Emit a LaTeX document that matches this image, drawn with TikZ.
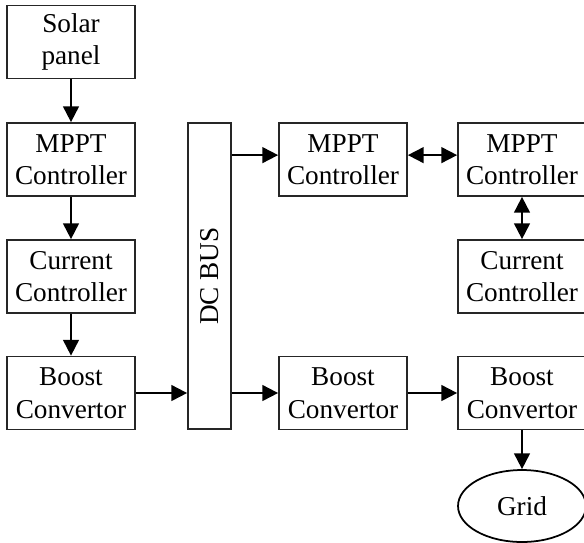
\documentclass[tikz,border=0pt]{standalone}
\usepackage{fontspec}
\setmainfont{Liberation Serif}
\usetikzlibrary{shapes,arrows.meta,positioning}

\begin{document}
\begin{tikzpicture}[
    x=0.02cm, y=-0.02cm,
    box/.style={rectangle, draw=black!85, line width=1pt, minimum width=2.56cm, minimum height=1.46cm, align=center, font=\fontsize{15.5}{18.5}\selectfont},
    arrow/.style={-{Triangle[length=9pt,width=9pt]}, line width=1.1pt},
    biarrow/.style={{Triangle[length=9pt,width=9pt]}-{Triangle[length=9pt,width=9pt]}, line width=1.1pt}
]
    \useasboundingbox (0,0) rectangle (584,542);

    % Left column
    \node[box] (solar) at (71,42) {Solar\\panel};
    \node[box] (mpptL) at (71,159.5) {MPPT\\Controller};
    \node[box] (currL) at (71,276.5) {Current\\Controller};
    \node[box] (boostL) at (71,393) {Boost\\Convertor};

    % DC bus
    \node[box, minimum width=0.86cm, minimum height=6.12cm] (dcbus) at (209.5,276) {\rotatebox{90}{DC BUS}};

    % Middle column
    \node[box] (mpptM) at (343,159.5) {MPPT\\Controller};
    \node[box] (boostM) at (343,393) {Boost\\Convertor};

    % Right column
    \node[box] (mpptR) at (522,159.5) {MPPT\\Controller};
    \node[box] (currR) at (522,276.5) {Current\\Controller};
    \node[box] (boostR) at (522,393) {Boost\\Convertor};
    \node[ellipse, draw, line width=1pt, minimum width=2.56cm, minimum height=1.44cm, font=\fontsize{15.5}{18.5}\selectfont] (grid) at (522,506) {Grid};

    % Arrows
    \draw[arrow] (solar) -- (mpptL);
    \draw[arrow] (mpptL) -- (currL);
    \draw[arrow] (currL) -- (boostL);
    \draw[arrow] (boostL) -- (boostL -| dcbus.west);
    \draw[arrow] (boostM -| dcbus.east) -- (boostM);
    \draw[arrow] ([yshift=2.5]mpptM.west -| dcbus.east) -- ([yshift=2.5]mpptM.west);
    \draw[arrow] (boostM) -- (boostR);
    \draw[arrow] (boostR) -- (grid);

    % Two-way links
    \draw[biarrow] ([yshift=2.5]mpptM.east) -- ([yshift=2.5]mpptR.west);
    \draw[biarrow] (mpptR) -- (currR);
\end{tikzpicture}
\end{document}
